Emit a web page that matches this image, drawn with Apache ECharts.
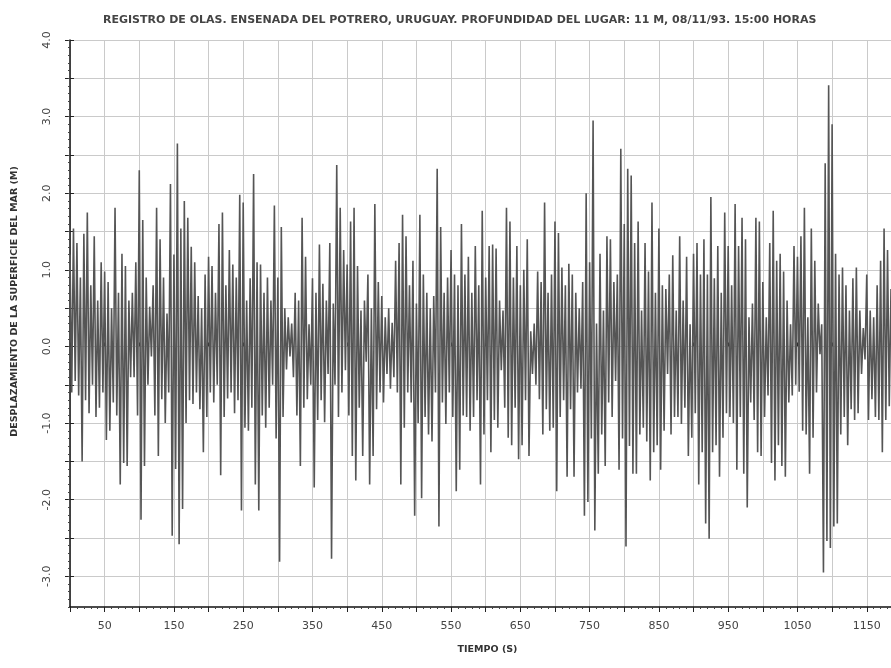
<!DOCTYPE html>
<html>
<head>
<meta charset="utf-8">
<script src="https://cdn.jsdelivr.net/npm/echarts@6.0.0/dist/echarts.min.js"></script>
<style>
html, body { margin: 0; padding: 0; background: #fff; }
#main { width: 891px; height: 668px; }
</style>
</head>
<body>
<div id="main"></div>
<script>
// 波浪记录：每 2.5 s 一个值（波峰 / 波谷交替），每行 30 s
const dt = 2.5;
const elevRows = [
    [1.2, -0.6, 1.54, -0.45, 1.35, -0.64, 0.9, -1.5, 1.47, -0.7, 1.75, -0.87],
    [0.8, -0.5, 1.44, -0.92, 0.6, -0.8, 1.1, -0.6, 0.98, -1.22, 0.84, -1.1],
    [0.5, -0.73, 1.81, -0.9, 0.7, -1.8, 1.21, -1.52, 1.05, -1.56, 0.6, -0.4],
    [0.7, -0.4, 1.1, -0.9, 2.3, -2.26, 1.65, -1.56, 0.9, -0.5, 0.52, -0.13],
    [0.8, -0.9, 1.81, -1.43, 1.4, -0.69, 0.9, -1.0, 0.43, -0.6, 2.12, -2.47],
    [1.2, -1.6, 2.65, -2.58, 1.54, -2.12, 1.9, -1.0, 1.68, -0.7, 1.3, -0.75],
    [1.1, -0.6, 0.66, -0.82, 0.5, -1.38, 0.94, -0.92, 1.17, -0.6, 1.05, -0.73],
    [0.7, -0.5, 1.6, -1.68, 1.75, -0.92, 0.8, -0.68, 1.26, -0.6, 1.07, -0.87],
    [0.9, -0.7, 1.98, -2.14, 1.88, -1.06, 0.6, -1.1, 0.89, -0.8, 2.25, -1.8],
    [1.1, -2.14, 1.07, -0.9, 0.7, -1.06, 0.9, -0.8, 0.6, -0.5, 1.84, -1.2],
    [0.9, -2.81, 1.56, -0.92, 0.5, -0.3, 0.38, -0.13, 0.3, -0.4, 0.7, -0.9],
    [0.6, -1.56, 1.68, -0.8, 1.17, -0.69, 0.29, -0.5, 0.89, -1.84, 0.7, -0.96],
    [1.33, -0.7, 0.82, -0.99, 0.6, -0.36, 1.35, -2.77, 0.56, -0.5, 2.37, -0.92],
    [1.81, -0.6, 1.26, -0.31, 1.07, -0.9, 1.63, -1.43, 1.81, -1.75, 1.05, -0.8],
    [0.47, -1.43, 0.6, -0.2, 0.94, -1.8, 0.5, -1.43, 1.86, -0.82, 0.84, -0.6],
    [0.66, -0.73, 0.38, -0.36, 0.5, -0.55, 0.31, -0.4, 1.12, -0.6, 1.35, -1.8],
    [1.72, -1.06, 1.44, -0.6, 0.8, -0.73, 1.12, -2.21, 0.56, -1.0, 1.72, -1.98],
    [0.94, -0.92, 0.7, -1.15, 0.5, -1.24, 0.66, -0.6, 2.32, -2.35, 1.56, -0.73],
    [0.7, -1.01, 0.9, -0.6, 1.26, -0.92, 0.94, -1.89, 0.8, -1.61, 1.6, -0.9],
    [0.94, -0.92, 1.17, -1.1, 0.7, -0.92, 1.31, -0.7, 0.8, -1.8, 1.77, -1.15],
    [0.9, -0.7, 1.31, -1.38, 1.33, -0.96, 1.28, -1.06, 0.6, -0.31, 0.47, -0.8],
    [1.81, -1.19, 1.63, -1.29, 0.9, -0.8, 1.31, -1.47, 0.8, -1.29, 1.0, -0.7],
    [1.4, -1.43, 0.2, -0.36, 0.3, -0.5, 0.98, -0.69, 0.84, -1.15, 1.88, -0.82],
    [0.7, -1.1, 0.94, -1.06, 1.63, -1.89, 1.48, -0.92, 1.03, -0.7, 0.8, -1.7],
    [1.08, -0.82, 0.94, -1.7, 0.7, -0.6, 0.5, -0.55, 0.84, -2.21, 2.0, -2.03],
    [1.1, -1.2, 2.95, -2.4, 0.3, -1.66, 1.21, -1.15, 0.47, -1.56, 1.44, -0.73],
    [1.4, -0.92, 0.84, -0.45, 0.94, -1.61, 2.58, -1.2, 1.6, -2.61, 2.32, -1.3],
    [2.23, -1.66, 1.35, -1.66, 1.63, -1.15, 0.47, -1.06, 1.35, -1.24, 0.98, -1.75],
    [1.88, -1.38, 0.7, -1.29, 1.54, -1.61, 0.8, -1.1, 0.75, -0.36, 0.94, -1.15],
    [1.19, -0.92, 0.47, -0.92, 1.44, -1.01, 0.6, -0.8, 1.17, -1.43, 0.29, -1.19],
    [1.21, -0.87, 1.35, -1.8, 0.94, -1.38, 1.4, -2.31, 0.94, -2.51, 1.95, -1.38],
    [0.89, -1.29, 1.31, -1.7, 0.7, -1.19, 1.75, -0.87, 1.31, -0.92, 0.8, -1.0],
    [1.86, -1.61, 1.31, -0.92, 1.68, -1.66, 1.4, -2.1, 0.38, -0.73, 0.56, -0.96],
    [1.68, -1.38, 1.63, -1.43, 0.84, -0.92, 0.38, -0.64, 1.35, -1.52, 1.77, -1.75],
    [1.12, -1.29, 1.21, -1.56, 0.98, -1.7, 0.6, -0.73, 0.29, -0.64, 1.31, -0.5],
    [1.17, -0.59, 1.44, -1.1, 1.81, -1.15, 0.38, -1.66, 1.54, -1.19, 1.12, -0.6],
    [0.56, -0.1, 0.29, -2.95, 2.39, -2.54, 3.41, -2.63, 2.9, -2.35, 1.21, -2.31],
    [0.94, -1.15, 1.03, -0.92, 0.8, -1.29, 0.47, -0.82, 0.89, -0.96, 1.03, -0.87],
    [0.47, -0.36, 0.24, -0.17, 0.94, -0.96, 0.47, -0.69, 0.38, -0.92, 0.8, -0.96],
    [1.12, -1.38, 1.54, -0.96, 1.26, -0.78, 0.75]
];
const elev = [].concat(...elevRows);

// 坐标轴刻度
const xLabelValues = [50, 150, 250, 350, 450, 550, 650, 750, 850, 950, 1050, 1150];
const yTickValues = [-3.0, -2.5, -2.0, -1.5, -1.0, -0.5, 0.0, 0.5, 1.0, 1.5, 2.0, 2.5, 3.0, 3.5, 4.0];
const yLabelValues = [-3.0, -2.0, -1.0, 0.0, 1.0, 2.0, 3.0, 4.0];

const titleText = 'REGISTRO DE OLAS. ENSENADA DEL POTRERO, URUGUAY. PROFUNDIDAD DEL LUGAR: 11 M, 08/11/93. 15:00 HORAS';

const seriesData = elev.map((v, i) => [i * dt, v]);

const myChart = echarts.init(document.getElementById('main'), null, { renderer: 'canvas' });
const labelStyle = { color: '#444', fontSize: 11, fontFamily: 'DejaVu Sans' };

let option = {
    backgroundColor: '#fff',
    animation: false,
    title: {
        text: titleText,
        left: 98,
        top: 10,
        textStyle: { color: '#444', fontSize: 11, fontWeight: 'bold', fontFamily: 'DejaVu Sans' }
    },
    grid: { left: 70, right: 0, top: 40, bottom: 61 },
    xAxis: [{
        type: 'value',
        min: 0,
        max: 1185,
        interval: 50,
        position: 'bottom',
        name: 'TIEMPO (S)',
        nameLocation: 'middle',
        nameGap: 38,
        nameTextStyle: { color: '#333', fontSize: 9.5, fontWeight: 'bold', fontFamily: 'DejaVu Sans', padding: [0, 0, 0, 14] },
        axisLine: { show: true, onZero: false, lineStyle: { color: '#111', width: 1.5 } },
        axisTick: { show: true, length: 5, lineStyle: { color: '#222' } },
        minorTick: { show: true, splitNumber: 5, length: 2, lineStyle: { color: '#444' } },
        axisLabel: {
            customValues: xLabelValues,
            margin: 14,
            formatter: v => String(v),
            ...labelStyle
        },
        splitLine: { show: true, lineStyle: { color: '#cacaca', width: 1 } }
    }, {
        // 轴内侧的刻度
        type: 'value',
        min: 0,
        max: 1185,
        interval: 50,
        position: 'bottom',
        axisLine: { show: false },
        axisTick: { show: true, inside: true, length: 4, lineStyle: { color: '#222' } },
        axisLabel: { show: false },
        splitLine: { show: false }
    }],
    yAxis: [{
        type: 'value',
        min: -3.4,
        max: 4.0,
        position: 'left',
        name: 'DESPLAZAMIENTO DE LA SUPERFICIE DEL MAR (M)',
        nameLocation: 'middle',
        nameGap: 50,
        nameTextStyle: {
            color: '#333', fontSize: 9.5, fontWeight: 'bold', fontFamily: 'DejaVu Sans',
            padding: [0, 0, 0, 44]
        },
        axisLine: { show: true, onZero: false, lineStyle: { color: '#111', width: 1.5 } },
        axisTick: { show: true, customValues: yTickValues, length: 5, lineStyle: { color: '#222' } },
        axisLabel: {
            customValues: yLabelValues,
            rotate: 90,
            margin: 17,
            formatter: v => v.toFixed(1),
            ...labelStyle
        },
        splitLine: { show: true, lineStyle: { color: '#cacaca', width: 1 } }
    }, {
        // 0.1 的小刻度
        type: 'value',
        min: -3.4,
        max: 4.0,
        interval: 0.1,
        position: 'left',
        axisLine: { show: false },
        axisTick: { show: true, length: 2, lineStyle: { color: '#444' } },
        axisLabel: { show: false },
        splitLine: { show: false }
    }, {
        type: 'value',
        min: -3.4,
        max: 4.0,
        position: 'left',
        axisLine: { show: false },
        axisTick: { show: true, inside: true, customValues: yTickValues, length: 4, lineStyle: { color: '#222' } },
        axisLabel: { show: false },
        splitLine: { show: false }
    }],
    series: [{
        name: 'elev',
        type: 'line',
        xAxisIndex: 0,
        yAxisIndex: 0,
        showSymbol: false,
        sampling: false,
        lineStyle: { color: '#555', width: 1.6 },
        data: seriesData
    }]
};
myChart.setOption(option);
</script>
</body>
</html>
